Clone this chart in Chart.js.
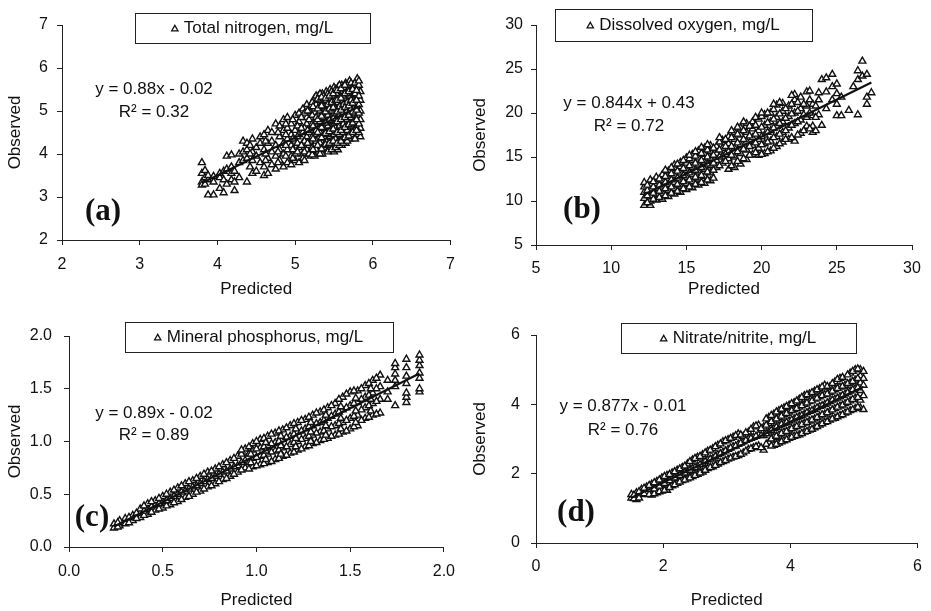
<!DOCTYPE html>
<html>
<head>
<meta charset="utf-8">
<script src="https://cdn.jsdelivr.net/npm/chart.js@4.4.1/dist/chart.umd.min.js"></script>
<style>
  body { margin: 0; background: #fff; }
  canvas { position: absolute; }
</style>
</head>
<body>
<canvas id="panelA" width="465" height="300" style="left:0;top:0"></canvas>
<canvas id="panelB" width="466" height="300" style="left:465px;top:0"></canvas>
<canvas id="panelC" width="465" height="311" style="left:0;top:300px"></canvas>
<canvas id="panelD" width="466" height="311" style="left:465px;top:300px"></canvas>
<script>
// (a) Total nitrogen - predicted columns and the observed values at each
const nitrogenPred = [3.80, 3.84, 3.88, 3.95, 4.03, 4.08, 4.12, 4.18, 4.22, 4.28,
  4.33, 4.38, 4.45, 4.50, 4.55, 4.60, 4.65, 4.70, 4.75, 4.80,
  4.85, 4.90, 4.95, 5.00, 5.05, 5.10, 5.15, 5.20, 5.25, 5.30,
  5.35, 5.40, 5.45, 5.50, 5.55, 5.60, 5.65, 5.70, 5.75, 5.80, 5.84];
const nitrogenObs = [
  [3.80, 3.55, 3.35, 3.28], [3.62, 3.45, 3.30], [3.05, 3.40, 3.50], [3.05, 3.48, 3.35],
  [3.20, 3.45, 3.55], [3.10, 3.60, 3.40], [3.65, 3.95, 3.30], [3.55, 3.70, 3.40, 3.98],
  [3.15, 3.35, 3.60], [3.45, 3.80, 4.00],
  [4.05, 3.85, 4.30], [3.35, 4.25, 3.90, 4.10], [3.55, 3.85, 4.35, 4.05], [3.60, 4.15, 3.95],
  [4.25, 3.80, 4.40], [3.50, 3.70, 4.45, 4.10], [3.90, 4.55, 4.25, 3.55], [4.50, 4.05, 3.75, 4.30],
  [3.65, 4.20, 4.70, 3.95], [4.65, 4.40, 3.85, 4.10],
  [4.80, 4.55, 3.70, 4.00, 4.25], [4.85, 4.35, 3.80, 4.60, 4.10], [4.70, 4.45, 3.95, 4.20, 3.75],
  [4.90, 4.30, 4.00, 4.55, 3.85], [4.95, 4.75, 4.15, 3.80, 4.45], [5.05, 4.50, 4.25, 4.00, 3.90],
  [5.15, 4.85, 4.40, 4.10, 4.70], [5.10, 4.95, 4.60, 4.30, 4.05, 3.95],
  [5.30, 5.05, 4.75, 4.45, 4.20, 3.95], [5.35, 5.15, 4.90, 4.60, 4.35, 4.05],
  [5.40, 5.20, 4.95, 4.70, 4.50, 4.25, 4.00], [5.45, 5.25, 5.00, 4.80, 4.55, 4.30, 4.10],
  [5.50, 5.30, 5.10, 4.85, 4.65, 4.40, 4.15], [5.55, 5.35, 5.15, 4.95, 4.70, 4.45, 4.20, 4.05],
  [5.55, 5.40, 5.20, 5.00, 4.80, 4.55, 4.30, 4.10], [5.60, 5.45, 5.25, 5.05, 4.85, 4.60, 4.40, 4.20],
  [5.65, 5.50, 5.30, 5.10, 4.90, 4.70, 4.45, 4.25], [5.70, 5.55, 5.35, 5.15, 4.95, 4.75, 4.55, 4.35],
  [5.60, 5.45, 5.25, 5.05, 4.85, 4.60, 4.40], [5.75, 5.55, 5.35, 5.10, 4.90, 4.65, 4.45],
  [5.45, 5.25, 5.00, 4.80, 4.60, 4.40]
];
// more (a) columns, filling the dense upper part of the cloud
const nitrogenPred2 = [4.42, 4.62, 4.78, 4.88, 4.97, 5.03, 5.12, 5.18, 5.22, 5.27,
  5.32, 5.37, 5.42, 5.47, 5.52, 5.57, 5.62, 5.67, 5.72, 5.77, 5.82,
  5.08, 5.16, 5.23, 5.29, 5.34, 5.39, 5.44, 5.49, 5.54, 5.59, 5.64, 5.69, 5.74, 5.79];
const nitrogenObs2 = [
  [3.70, 4.00, 4.20], [3.85, 4.30, 4.00], [3.80, 4.05, 4.50], [3.95, 4.20, 4.45, 4.70],
  [3.90, 4.10, 4.35, 4.80], [4.05, 4.25, 4.40, 4.65], [3.85, 4.05, 4.30, 4.60, 4.95],
  [4.00, 4.20, 4.50, 4.80, 5.00], [3.98, 4.15, 4.40, 4.70, 4.90, 5.20],
  [4.10, 4.30, 4.55, 4.85, 5.15, 5.35], [4.00, 4.25, 4.50, 4.75, 5.00, 5.25, 5.40],
  [4.15, 4.40, 4.60, 4.85, 5.10, 5.35], [4.05, 4.20, 4.45, 4.65, 4.90, 5.15, 5.40],
  [4.10, 4.30, 4.55, 4.75, 5.00, 5.20, 5.45], [4.15, 4.35, 4.60, 4.80, 5.05, 5.25, 5.50],
  [4.20, 4.45, 4.65, 4.90, 5.10, 5.30, 5.60], [4.25, 4.50, 4.70, 4.95, 5.15, 5.35, 5.55],
  [4.30, 4.55, 4.80, 5.00, 5.20, 5.40, 5.60], [4.45, 4.65, 4.85, 5.05, 5.25, 5.45, 5.65],
  [4.35, 4.55, 4.75, 4.95, 5.20, 5.40, 5.65], [4.50, 4.70, 4.95, 5.15, 5.35, 5.60, 5.70],
  [4.20, 4.60, 4.85], [4.25, 4.55, 5.00], [4.10, 4.35, 4.65, 5.10], [4.20, 4.50, 4.80, 5.05, 5.28],
  [4.12, 4.38, 4.62, 4.88, 5.12, 5.32], [4.22, 4.48, 4.72, 4.98, 5.30], [4.25, 4.52, 4.78, 5.05, 5.35],
  [4.30, 4.58, 4.82, 5.08, 5.40], [4.25, 4.50, 4.75, 4.98, 5.25, 5.48], [4.30, 4.55, 4.80, 5.02, 5.30, 5.52],
  [4.38, 4.62, 4.85, 5.08, 5.40, 5.60], [4.42, 4.68, 4.90, 5.12, 5.45], [4.50, 4.72, 4.98, 5.18, 5.50],
  [4.55, 4.80, 5.02, 5.25, 5.48]
];

// (b) Dissolved oxygen
const oxygenPred = [12.2, 12.6, 13.0, 13.4, 13.8, 14.2, 14.6, 15.0, 15.4, 15.8,
  16.2, 16.6, 17.0, 17.4, 17.8, 18.2, 18.6, 19.0, 19.4, 19.8,
  20.2, 20.6, 21.0, 21.4, 21.8, 22.2, 22.6, 23.0, 23.4, 23.8,
  24.0, 24.3, 24.7, 25.0, 25.3, 25.8, 26.1, 26.4, 26.7, 27.0, 27.3];
const oxygenObs = [
  [9.5, 10.3, 11.0, 11.6, 12.1], [9.5, 10.0, 10.6, 11.3, 11.9, 12.4], [10.1, 10.8, 11.4, 12.0, 12.7],
  [10.2, 10.9, 11.6, 12.3, 13.0], [10.5, 11.2, 11.9, 12.6, 13.4], [10.8, 11.4, 12.1, 12.9, 13.7, 14.1],
  [11.0, 11.7, 12.4, 13.2, 13.9, 14.4], [11.3, 12.0, 12.7, 13.5, 14.3, 14.9], [11.5, 12.2, 13.0, 13.8, 14.6, 15.3],
  [11.8, 12.5, 13.3, 14.1, 14.9, 15.7],
  [12.0, 12.8, 13.6, 14.4, 15.3, 16.0], [12.3, 13.2, 14.0, 14.8, 15.6, 16.3], [13.8, 14.6, 15.4, 16.2],
  [14.3, 15.1, 16.0, 16.9], [13.6, 14.8, 15.6, 16.5, 17.3], [13.8, 15.0, 16.0, 17.0, 17.8],
  [14.2, 15.4, 16.4, 17.5, 18.3], [14.7, 15.8, 16.8, 17.8, 18.8], [15.3, 16.3, 17.2, 18.2, 19.0],
  [15.2, 16.0, 17.0, 18.0, 19.3],
  [15.4, 16.5, 17.5, 18.6, 19.8], [15.7, 16.8, 18.0, 19.0, 20.0], [16.2, 17.3, 18.5, 19.5, 20.9],
  [16.7, 17.8, 19.0, 20.2, 21.1], [17.0, 18.3, 19.6, 20.8], [16.8, 18.8, 20.0, 21.5, 22.1],
  [17.7, 19.2, 20.5, 21.8], [18.5, 19.5, 20.8, 22.4], [17.8, 18.5, 19.7, 21.0], [19.8, 21.5, 22.3],
  [18.6, 23.8], [20.5, 22.4, 24.0], [21.5, 23.0, 24.4], [19.7, 21.0, 22.2, 23.3], [19.7, 21.8],
  [20.3], [23.0], [19.8, 23.8, 24.8], [24.2, 25.9], [21.0, 21.8, 24.4], [22.3]
];
const oxygenPred2 = [12.4, 12.8, 13.2, 13.6, 14.0, 14.4, 14.8, 15.2, 15.6, 16.0,
  16.4, 16.8, 17.2, 17.6, 18.0, 18.4, 18.8, 19.2, 19.6, 20.0,
  20.4, 20.8, 21.2, 21.6, 22.0, 22.4, 22.8, 23.2, 23.6];
const oxygenObs2 = [
  [9.8, 10.6, 11.2, 11.8], [10.2, 10.9, 11.6, 12.2], [10.4, 11.1, 11.8, 12.5],
  [10.6, 11.4, 12.1, 12.8, 13.5], [10.9, 11.6, 12.4, 13.1, 13.8], [11.1, 11.9, 12.6, 13.4, 14.2],
  [11.4, 12.2, 12.9, 13.7, 14.6], [11.6, 12.4, 13.2, 14.0, 14.8, 15.2], [11.9, 12.7, 13.5, 14.3, 15.1, 15.6],
  [12.1, 12.9, 13.8, 14.6, 15.4, 16.1], [12.4, 13.3, 14.2, 15.0, 15.8, 16.4], [12.6, 13.5, 14.3, 15.2, 16.0],
  [14.0, 15.0, 15.8, 16.7, 17.2], [14.5, 15.3, 16.2, 17.0], [14.0, 15.2, 16.2, 17.2, 18.0],
  [14.5, 15.6, 16.6, 17.6, 18.4], [14.8, 15.9, 17.0, 18.0, 19.0], [15.2, 16.2, 17.4, 18.5],
  [15.5, 16.6, 17.6, 18.6, 19.5], [15.3, 16.4, 17.3, 18.4, 19.6, 20.0], [15.6, 16.7, 17.8, 18.9, 20.0],
  [16.0, 17.2, 18.3, 19.3, 20.4, 21.0], [16.5, 17.6, 18.8, 19.9, 21.2], [17.0, 18.0, 19.4, 20.5],
  [17.2, 18.6, 19.9, 21.0, 22.0], [17.5, 19.0, 20.2, 21.2], [18.0, 19.8, 21.0],
  [18.2, 20.0, 21.5, 22.5], [18.0, 19.5, 20.8]
];

// (c) Mineral phosphorus
const phosPred = [0.24, 0.27, 0.30, 0.34, 0.38, 0.42, 0.46, 0.50, 0.54, 0.58,
  0.62, 0.66, 0.70, 0.74, 0.78, 0.82, 0.86, 0.90, 0.94, 0.98,
  1.02, 1.06, 1.10, 1.14, 1.18, 1.22, 1.26, 1.30, 1.34, 1.38,
  1.42, 1.46, 1.50, 1.54, 1.58, 1.62, 1.66, 1.70, 1.74, 1.80, 1.87];
const phosObs = [
  [0.18, 0.22], [0.20, 0.25], [0.22, 0.27], [0.25, 0.30], [0.28, 0.33, 0.36],
  [0.31, 0.36, 0.41], [0.35, 0.40, 0.44], [0.37, 0.43, 0.48], [0.40, 0.46, 0.52], [0.43, 0.50, 0.56],
  [0.47, 0.53, 0.60], [0.50, 0.57, 0.63], [0.53, 0.60, 0.67], [0.57, 0.64, 0.71], [0.60, 0.67, 0.74],
  [0.64, 0.71, 0.78], [0.67, 0.74, 0.82], [0.71, 0.77, 0.86], [0.75, 0.82, 0.90, 0.93], [0.76, 0.84, 0.92, 0.98],
  [0.78, 0.86, 0.94, 1.02], [0.80, 0.88, 0.96, 1.05], [0.83, 0.91, 0.99, 1.08], [0.86, 0.94, 1.02, 1.11],
  [0.89, 0.97, 1.05, 1.15], [0.92, 1.00, 1.09, 1.18], [0.95, 1.03, 1.12, 1.21], [0.98, 1.06, 1.15, 1.25],
  [1.01, 1.09, 1.18, 1.28], [1.03, 1.12, 1.22, 1.32],
  [1.06, 1.15, 1.26, 1.36], [1.09, 1.18, 1.30, 1.42], [1.12, 1.22, 1.34, 1.47], [1.15, 1.25, 1.37, 1.48],
  [1.22, 1.32, 1.42, 1.53], [1.25, 1.36, 1.46, 1.58], [1.27, 1.40, 1.52, 1.63], [1.40, 1.47, 1.58],
  [1.34, 1.52, 1.58, 1.64, 1.70, 1.74], [1.37, 1.42, 1.46, 1.55, 1.62, 1.70, 1.78],
  [1.47, 1.50, 1.60, 1.65, 1.72, 1.77, 1.82]
];
const phosPred2 = [0.26, 0.32, 0.36, 0.40, 0.44, 0.48, 0.52, 0.56, 0.60, 0.64,
  0.68, 0.72, 0.76, 0.80, 0.84, 0.88, 0.92, 0.96, 1.00, 1.04,
  1.08, 1.12, 1.16, 1.20, 1.24, 1.28, 1.32, 1.36, 1.40, 1.44,
  1.48, 1.52, 1.56, 1.60, 1.64,
  0.97, 1.05, 1.13, 1.21, 1.29, 1.37, 1.45, 1.53, 1.61];
const phosObs2 = [
  [0.19, 0.23], [0.23, 0.28], [0.27, 0.32], [0.30, 0.34, 0.39], [0.33, 0.38, 0.43],
  [0.36, 0.41, 0.46], [0.39, 0.44, 0.50], [0.42, 0.48, 0.54], [0.45, 0.52, 0.58], [0.48, 0.55, 0.62],
  [0.52, 0.58, 0.65], [0.55, 0.62, 0.69], [0.58, 0.65, 0.72], [0.62, 0.69, 0.76], [0.65, 0.72, 0.80],
  [0.69, 0.76, 0.84], [0.73, 0.80, 0.88, 0.92], [0.74, 0.80, 0.88, 0.95], [0.77, 0.85, 0.93, 1.00],
  [0.79, 0.87, 0.95, 1.03], [0.81, 0.90, 0.98, 1.07], [0.84, 0.92, 1.00, 1.10], [0.87, 0.95, 1.04, 1.13],
  [0.90, 0.99, 1.07, 1.17], [0.93, 1.02, 1.10, 1.20], [0.96, 1.05, 1.14, 1.23], [0.99, 1.08, 1.17, 1.27],
  [1.02, 1.10, 1.20, 1.30], [1.05, 1.14, 1.24, 1.34], [1.07, 1.17, 1.28, 1.40], [1.10, 1.20, 1.32, 1.45],
  [1.14, 1.24, 1.36, 1.48], [1.20, 1.30, 1.40, 1.50], [1.23, 1.34, 1.44, 1.55], [1.26, 1.38, 1.50, 1.60],
  [0.80, 0.88], [0.83, 0.91, 0.99], [0.88, 0.96, 1.05], [0.95, 1.03, 1.12], [1.00, 1.09, 1.18],
  [1.06, 1.15, 1.25], [1.12, 1.22, 1.33], [1.18, 1.29, 1.41], [1.29, 1.40, 1.50]
];

// (d) Nitrate/nitrite
const nitratePred = [1.50, 1.58, 1.66, 1.74, 1.82, 1.90, 1.98, 2.06, 2.14, 2.22,
  2.30, 2.38, 2.46, 2.54, 2.62, 2.70, 2.78, 2.86, 2.94, 3.02,
  3.10, 3.18, 3.26, 3.34, 3.42, 3.50, 3.58, 3.66, 3.74, 3.82,
  3.90, 3.98, 4.06, 4.14, 4.22, 4.30, 4.38, 4.46, 4.54, 4.62,
  4.70, 4.78, 4.86, 4.94, 5.02, 5.10, 5.15];
const nitrateObs = [
  [1.30, 1.40], [1.25, 1.35, 1.45], [1.40, 1.55], [1.45, 1.62], [1.38, 1.50, 1.70],
  [1.45, 1.60, 1.78], [1.50, 1.68, 1.88], [1.52, 1.75, 1.95], [1.65, 1.85, 2.02], [1.72, 1.92, 2.10],
  [1.80, 1.98, 2.18], [1.85, 2.05, 2.28], [1.92, 2.15, 2.40], [1.98, 2.22, 2.48], [2.05, 2.30, 2.55],
  [2.15, 2.40, 2.65], [2.20, 2.45, 2.72], [2.28, 2.55, 2.82], [2.35, 2.62, 2.92], [2.42, 2.70, 2.98],
  [2.48, 2.78, 3.05], [2.52, 2.85, 3.15], [2.60, 2.92, 3.08], [2.70, 3.00, 3.20], [2.75, 3.05, 3.35],
  [2.80, 3.12, 3.40], [2.68, 3.10, 3.35], [2.90, 3.20, 3.45, 3.62], [2.82, 3.05, 3.30, 3.55, 3.72],
  [2.88, 3.12, 3.38, 3.62, 3.82],
  [2.95, 3.20, 3.45, 3.70, 3.90], [3.02, 3.26, 3.52, 3.78, 3.98], [3.08, 3.32, 3.58, 3.85, 4.05],
  [3.12, 3.40, 3.65, 3.92, 4.15], [3.20, 3.46, 3.72, 4.00, 4.25], [3.26, 3.52, 3.80, 4.08, 4.30],
  [3.32, 3.58, 3.86, 4.15, 4.38], [3.40, 3.66, 3.94, 4.22, 4.45], [3.48, 3.72, 4.00, 4.28, 4.55],
  [3.55, 3.80, 4.08, 4.35, 4.50],
  [3.60, 3.88, 4.15, 4.42, 4.65], [3.68, 3.95, 4.22, 4.50, 4.75], [3.75, 4.02, 4.30, 4.55],
  [3.82, 4.10, 4.38, 4.62, 4.90], [3.88, 4.18, 4.45, 4.70, 5.00], [3.90, 4.12, 4.40, 4.62, 4.82, 5.00],
  [3.85, 4.25, 4.55, 4.75, 4.95]
];
const nitratePred2 = [1.54, 1.62, 1.70, 1.78, 1.86, 1.94, 2.02, 2.10, 2.18, 2.26,
  2.34, 2.42, 2.50, 2.58, 2.66, 2.74, 2.82, 2.90, 2.98, 3.06,
  3.14, 3.22, 3.30, 3.38, 3.46, 3.54, 3.62, 3.70, 3.78, 3.86,
  3.94, 4.02, 4.10, 4.18, 4.26, 4.34, 4.42, 4.50, 4.58, 4.66,
  4.74, 4.82, 4.90, 4.98, 5.06];
const nitrateObs2 = [
  [1.28, 1.38], [1.30, 1.48], [1.42, 1.58], [1.40, 1.55, 1.66], [1.42, 1.56, 1.74],
  [1.48, 1.64, 1.82], [1.52, 1.72, 1.92], [1.60, 1.80, 1.98], [1.68, 1.88, 2.06], [1.76, 1.95, 2.14],
  [1.82, 2.02, 2.22], [1.88, 2.10, 2.35], [1.95, 2.18, 2.44], [2.02, 2.26, 2.50], [2.10, 2.35, 2.60],
  [2.18, 2.42, 2.68], [2.24, 2.50, 2.78], [2.32, 2.58, 2.86], [2.38, 2.66, 2.95], [2.45, 2.74, 3.02],
  [2.50, 2.80, 3.10], [2.56, 2.88, 3.12], [2.65, 2.96, 3.18], [2.72, 3.02, 3.28], [2.78, 3.08, 3.38],
  [2.75, 3.10, 3.30], [2.85, 3.15, 3.40, 3.58], [2.80, 3.00, 3.25, 3.50, 3.68],
  [2.85, 3.08, 3.34, 3.58, 3.78], [2.92, 3.16, 3.42, 3.66, 3.86],
  [2.98, 3.22, 3.48, 3.74, 3.94], [3.05, 3.30, 3.55, 3.82, 4.02], [3.10, 3.36, 3.62, 3.88, 4.10],
  [3.16, 3.42, 3.68, 3.96, 4.20], [3.22, 3.48, 3.76, 4.04, 4.28], [3.28, 3.55, 3.82, 4.10, 4.34],
  [3.36, 3.62, 3.90, 4.18, 4.42], [3.44, 3.70, 3.96, 4.25, 4.50], [3.50, 3.76, 4.04, 4.30, 4.52],
  [3.58, 3.84, 4.12, 4.38, 4.60], [3.64, 3.92, 4.18, 4.46, 4.72], [3.70, 3.98, 4.26, 4.52, 4.78],
  [3.78, 4.06, 4.34, 4.60, 4.85], [3.85, 4.14, 4.42, 4.66, 4.95], [3.92, 4.20, 4.48, 4.75, 5.02]
];

// fitted lines [slope, intercept] as printed on each panel
const nitrogenFit = [0.88, -0.02];
const oxygenFit = [0.844, 0.43];
const phosFit = [0.89, -0.02];
const nitrateFit = [0.877, -0.01];

const SANS = '"Liberation Sans", Arial, Helvetica, sans-serif';
const INK = '#111';

function toPoints(xs, ys, xs2, ys2) {
  const pts = [];
  xs.forEach((x, i) => ys[i].forEach(y => pts.push({x: x, y: y})));
  xs2.forEach((x, i) => ys2[i].forEach(y => pts.push({x: x, y: y})));
  return pts;
}

function fitLine(xs, fit) {
  const lo = Math.min(...xs), hi = Math.max(...xs);
  return [{x: lo, y: fit[0] * lo + fit[1]}, {x: hi, y: fit[0] * hi + fit[1]}];
}

function drawTri(ctx, x, y, r) {
  ctx.beginPath();
  ctx.moveTo(x, y - r);
  ctx.lineTo(x + r * 0.866, y + r * 0.5);
  ctx.lineTo(x - r * 0.866, y + r * 0.5);
  ctx.closePath();
  ctx.stroke();
}

// legend box, equation and panel letter
const decoPlugin = {
  id: 'deco',
  afterDraw(chart, args, o) {
    const ctx = chart.ctx;
    ctx.save();
    const b = o.box;
    ctx.strokeStyle = '#222';
    ctx.lineWidth = 1;
    ctx.strokeRect(b[0] + 0.5, b[1] + 0.5, b[2] - b[0], b[3] - b[1]);
    ctx.font = '17px ' + SANS;
    const tw = ctx.measureText(o.legend).width;
    const x0 = (b[0] + b[2]) / 2 - (tw + 12) / 2;
    const cy = (b[1] + b[3]) / 2;
    ctx.lineWidth = 1.3;
    ctx.strokeStyle = INK;
    drawTri(ctx, x0 + 3, cy + 1, 3.6);
    ctx.fillStyle = INK;
    ctx.textBaseline = 'middle';
    ctx.textAlign = 'left';
    ctx.fillText(o.legend, x0 + 12, cy);
    ctx.textAlign = 'center';
    ctx.fillText(o.eq[0], o.eqX, o.eqY[0]);
    ctx.fillText(o.eq[1], o.eqX, o.eqY[1]);
    ctx.font = 'bold 31px "Liberation Serif", "Times New Roman", serif';
    ctx.fillText(o.tag, o.tagX, o.tagY);
    ctx.restore();
  }
};

function axis(min, max, step, title, isX, fitSize, tickPad, oneDecimal) {
  return {
    type: 'linear',
    min: min,
    max: max,
    ticks: {
      stepSize: step,
      padding: tickPad,
      color: INK,
      font: {size: 16, family: SANS},
      callback: v => oneDecimal ? v.toFixed(1) : v
    },
    grid: {drawOnChartArea: false, tickLength: 5, color: '#222', tickWidth: 1},
    border: {color: '#222', width: 1},
    title: {
      display: true,
      text: title,
      color: INK,
      font: {size: 17, family: SANS},
      padding: isX ? {top: 0, bottom: 0} : {top: 5, bottom: 0}
    },
    afterFit: s => { if (isX) { s.height = fitSize; } else { s.width = fitSize; } }
  };
}

function makePanel(id, pts, line, p) {
  return new Chart(document.getElementById(id), {
    type: 'scatter',
    data: {
      datasets: [
        {data: line, showLine: true, borderColor: INK, borderWidth: 2.2, pointRadius: 0},
        {data: pts, pointStyle: 'triangle', pointRadius: 4, backgroundColor: '#fff',
         borderColor: INK, borderWidth: 1.4}
      ]
    },
    options: {
      responsive: false,
      animation: false,
      events: [],
      layout: {padding: {left: 0, top: p.top, right: p.right, bottom: 0}},
      scales: {
        x: axis(p.x[0], p.x[1], p.x[2], 'Predicted', true, p.xH, p.xPad, p.dec),
        y: axis(p.x[0], p.x[1], p.x[2], 'Observed', false, p.yW, p.yPad, p.dec)
      },
      plugins: {
        legend: {display: false},
        tooltip: {enabled: false},
        deco: p.deco
      }
    },
    plugins: [decoPlugin]
  });
}

makePanel('panelA', toPoints(nitrogenPred, nitrogenObs, nitrogenPred2, nitrogenObs2),
  fitLine(nitrogenPred, nitrogenFit), {
  x: [2, 7, 1], top: 25, right: 11, xH: 60, yW: 62, xPad: 10, yPad: 9, dec: false,
  deco: {box: [135, 13, 370, 43], legend: 'Total nitrogen, mg/L',
    eq: ['y = 0.88x - 0.02', 'R\u00B2 = 0.32'], eqX: 154, eqY: [89, 112],
    tag: '(a)', tagX: 103, tagY: 212}
});

makePanel('panelB', toPoints(oxygenPred, oxygenObs, oxygenPred2, oxygenObs2),
  fitLine(oxygenPred, oxygenFit), {
  x: [5, 30, 5], top: 25, right: 19, xH: 55, yW: 71, xPad: 8.5, yPad: 8, dec: false,
  deco: {box: [90, 9, 347, 41], legend: 'Dissolved oxygen, mg/L',
    eq: ['y = 0.844x + 0.43', 'R\u00B2 = 0.72'], eqX: 164, eqY: [103, 126],
    tag: '(b)', tagX: 117, tagY: 210}
});

makePanel('panelC', toPoints(phosPred, phosObs, phosPred2, phosObs2),
  fitLine(phosPred, phosFit), {
  x: [0, 2, 0.5], top: 36, right: 17, xH: 64, yW: 69, xPad: 10, yPad: 12, dec: true,
  deco: {box: [125, 22, 393, 52], legend: 'Mineral phosphorus, mg/L',
    eq: ['y = 0.89x - 0.02', 'R\u00B2 = 0.89'], eqX: 154, eqY: [113, 135],
    tag: '(c)', tagX: 92, tagY: 218}
});

makePanel('panelD', toPoints(nitratePred, nitrateObs, nitratePred2, nitrateObs2),
  fitLine(nitratePred, nitrateFit), {
  x: [0, 6, 2], top: 35, right: 12, xH: 68, yW: 71, xPad: 9, yPad: 11, dec: false,
  deco: {box: [156, 23, 391, 53], legend: 'Nitrate/nitrite, mg/L',
    eq: ['y = 0.877x - 0.01', 'R\u00B2 = 0.76'], eqX: 158, eqY: [106, 130],
    tag: '(d)', tagX: 111, tagY: 213}
});
</script>
</body>
</html>
